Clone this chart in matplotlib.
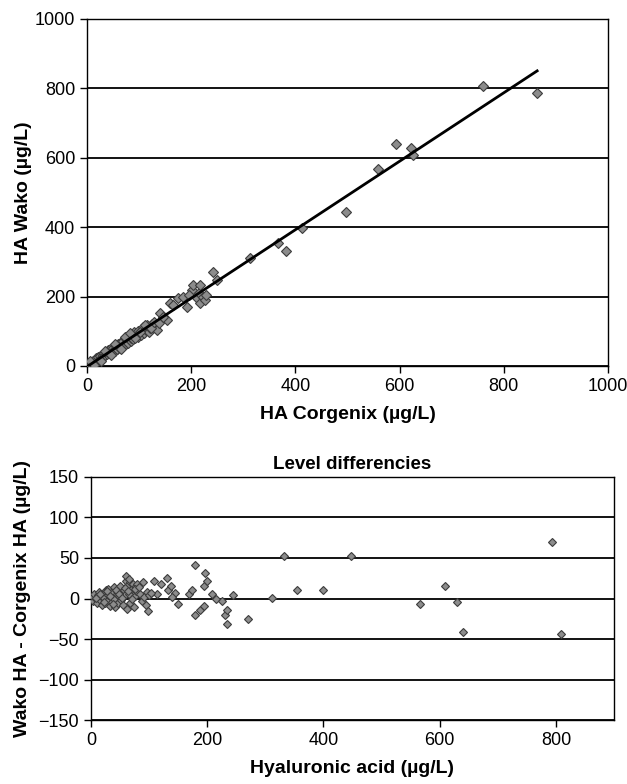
import matplotlib
matplotlib.use("Agg")
import matplotlib.pyplot as plt
import numpy as np

plt.rcParams['font.family'] = ['Liberation Sans', 'DejaVu Sans']

# top panel: HA Corgenix (x) vs HA Wako (y), ug/L
corgenix = [2, 4, 5, 7, 8, 10, 12, 13, 15, 17, 18, 20, 22, 24, 25, 27, 28, 30, 32, 33, 35,
            37, 38, 40, 42, 43, 45, 47, 48, 50, 52, 53, 55, 57, 58, 60, 62, 63, 65, 67, 68,
            70, 72, 74, 75, 77, 78, 80, 82, 84, 85, 87, 88, 90, 92, 95, 97, 98, 100, 103,
            105, 108, 110, 113, 115, 118, 120, 125, 130, 134, 140, 153, 159, 175, 185, 191,
            201, 204, 211, 214, 217, 217, 223, 226, 228, 242, 249, 313, 367, 382, 412, 498,
            559, 594, 621, 625, 760, 864,
            6, 14, 26, 34, 46, 54, 66, 73, 83, 93, 102, 112, 122, 128, 138, 146, 165, 196]
wako = [5, 2, 9, 6, 12, 8, 15, 10, 18, 13, 22, 17, 26, 20, 30, 24, 22, 33, 28, 36, 31,
        40, 34, 45, 38, 36, 48, 42, 40, 53, 47, 44, 58, 50, 48, 62, 55, 52, 68, 60, 56,
        72, 64, 62, 78, 70, 66, 85, 75, 72, 82, 88, 78, 98, 86, 92, 84, 102, 94, 90,
        100, 112, 96, 104, 118, 99, 108, 122, 113, 104, 154, 133, 181, 195, 200, 171,
        219, 233, 195, 209, 233, 181, 200, 190, 205, 272, 248, 310, 354, 332, 398, 445,
        567, 639, 629, 608, 807, 787,
        14, 4, 14, 42, 32, 62, 50, 84, 94, 80, 98, 118, 110, 128, 124, 140, 176, 205]

# bottom panel: hyaluronic acid (x) vs Wako - Corgenix difference (y)
ha_level = [2, 4, 6, 8, 10, 12, 14, 15, 17, 19, 20, 22, 24, 25, 27, 29, 30, 32, 34, 35,
            37, 39, 40, 42, 44, 45, 47, 49, 50, 52, 54, 55, 57, 59, 60, 61, 62, 64, 65, 67,
            68, 70, 72, 74, 75, 77, 78, 80, 85, 88, 90, 92, 95, 96, 98, 100, 109, 114,
            130, 133, 137, 144, 149, 168, 174, 179, 179, 188, 194, 194, 197, 200, 208,
            215, 225, 231, 234, 234, 245, 270, 311, 332, 355, 399, 447, 567, 609, 629,
            640, 793, 809,
            9, 16, 23, 28, 33, 38, 43, 48, 53, 58, 63, 66, 71, 76, 82, 104, 120, 140]
diff = [2, -3, 5, 0, -5, 4, 8, -2, 3, -8, 6, 1, -6, 10, -3, 4, 12, -9, 2, 7,
        -4, 14, 0, -10, 5, 9, -6, 3, 15, -2, 8, -8, 11, 4, 22, 28, -13, 17, 6, 20,
        -5, 12, 18, -10, 3, 15, 9, 18, 5, -3, 20, 2, -8, 8, -16, 4, 22, 6,
        25, 10, 15, 7, -7, 6, 11, 41, -20, -14, 15, -9, 31, 21, 5,
        0, -3, -20, -14, -32, 4, -25, 1, 52, 10, 11, 52, -7, 16, -4,
        -41, 70, -44,
        1, 6, -4, 9, 3, -7, 11, 6, 1, 13, 9, 24, 0, 12, 14, 7, 18, 2]

fill = '#8c8c8c'
edge = '#3c3c3c'

fig = plt.figure(figsize=(6.27, 7.84), dpi=100)

# ---- scatter with regression line
ax1 = fig.add_axes([0.1388, 0.5332, 0.8309, 0.4426])
ax1.plot(corgenix, wako, 'D', ms=5.2, mfc=fill, mec=edge, mew=0.8, zorder=3)
slope, icept = np.polyfit(corgenix, wako, 1)
xs = np.array([0, max(corgenix)])
ax1.plot(xs, slope * xs + icept, color='black', lw=2, zorder=4)
ax1.set_xlim(0, 1000)
ax1.set_ylim(0, 1000)
ax1.set_xticks(np.arange(0, 1001, 200))
ax1.set_yticks(np.arange(0, 1001, 200))
ax1.grid(axis='y', color='black', lw=1.3)
ax1.set_axisbelow(True)
ax1.set_xlabel('HA Corgenix (µg/L)', fontsize=14, fontweight='bold', labelpad=8)
ax1.set_ylabel('HA Wako (µg/L)', fontsize=14, fontweight='bold', labelpad=2)

# ---- difference plot
ax2 = fig.add_axes([0.1451, 0.0816, 0.8342, 0.31])
ax2.plot(ha_level, diff, 'D', ms=4.3, mfc=fill, mec=edge, mew=0.8, zorder=3)
ax2.set_xlim(0, 900)
ax2.set_ylim(-150, 150)
ax2.set_xticks(np.arange(0, 801, 200))
ax2.set_yticks(np.arange(-150, 151, 50))
ax2.grid(axis='y', color='black', lw=1.3)
ax2.set_axisbelow(True)
ax2.set_title('Level differencies', fontsize=13.5, fontweight='bold', pad=6)
ax2.set_xlabel('Hyaluronic acid (µg/L)', fontsize=14, fontweight='bold', labelpad=8)
ax2.set_ylabel('Wako HA - Corgenix HA (µg/L)', fontsize=14, fontweight='bold', labelpad=5)

for ax in (ax1, ax2):
    ax.tick_params(direction='out', length=5, width=1, labelsize=13, colors='black')
    for s in ax.spines.values():
        s.set_color('black')
        s.set_linewidth(1)

fig.savefig('out.png', dpi=100)
